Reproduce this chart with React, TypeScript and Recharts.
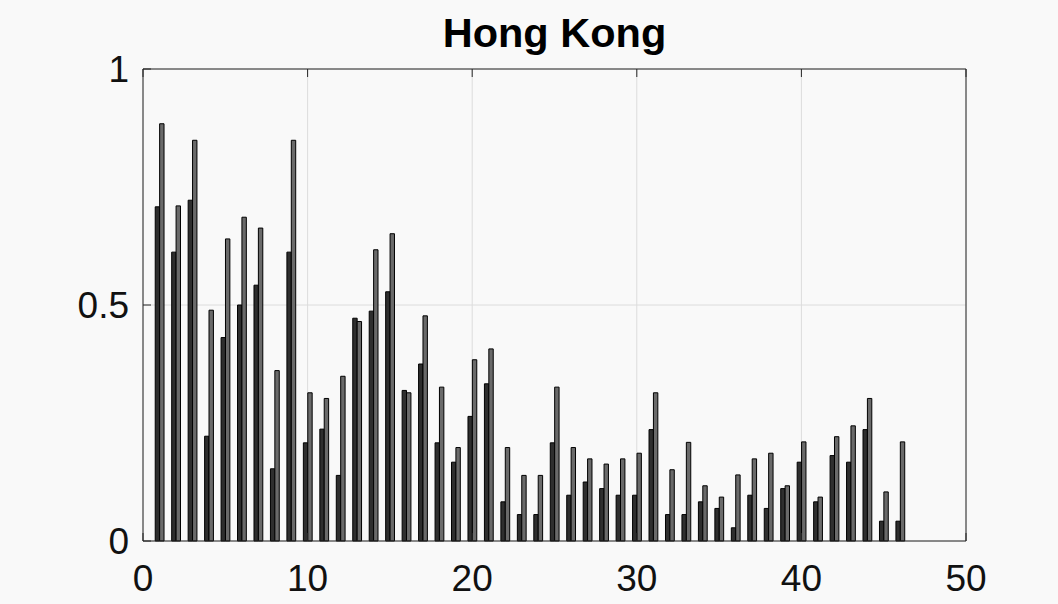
import { BarChart, Bar, XAxis, YAxis, CartesianGrid } from 'recharts'

// group positions along x
const positions = [
  1, 2, 3, 4, 5, 6, 7, 8, 9, 10, 11, 12, 13, 14, 15, 16, 17, 18, 19, 20, 21, 22, 23,
  24, 25, 26, 27, 28, 29, 30, 31, 32, 33, 34, 35, 36, 37, 38, 39, 40, 41, 42, 43, 44, 45, 46,
]

// first (dark) bar in each group
const seriesA = [
  0.708, 0.612, 0.722, 0.222, 0.431, 0.5, 0.542, 0.153, 0.612, 0.208, 0.237, 0.139, 0.472,
  0.487, 0.528, 0.319, 0.375, 0.208, 0.167, 0.264, 0.333, 0.083, 0.056, 0.056, 0.208, 0.097,
  0.125, 0.111, 0.097, 0.097, 0.236, 0.056, 0.056, 0.083, 0.069, 0.028, 0.097, 0.069, 0.111,
  0.167, 0.083, 0.181, 0.167, 0.236, 0.042, 0.042,
]

// second (lighter) bar in each group
const seriesB = [
  0.884, 0.71, 0.849, 0.489, 0.64, 0.686, 0.663, 0.361, 0.849, 0.314, 0.302, 0.349, 0.465,
  0.617, 0.651, 0.314, 0.477, 0.326, 0.198, 0.384, 0.407, 0.198, 0.139, 0.139, 0.326, 0.198,
  0.174, 0.163, 0.174, 0.186, 0.314, 0.151, 0.209, 0.117, 0.093, 0.14, 0.174, 0.186, 0.117,
  0.21, 0.093, 0.221, 0.244, 0.302, 0.104, 0.21,
]

const xTicks = [0, 10, 20, 30, 40, 50]
const yTicks = [0, 0.5, 1]

const data = positions.map((x, i) => ({ x, a: seriesA[i], b: seriesB[i] }))

const W = 1058
const H = 604
const FONT = '"Liberation Sans", Arial, Helvetica, sans-serif'
const AXIS = '#262626'
const tickStyle = { fontSize: 37, fontFamily: FONT, fill: '#111' }

export default function App() {
  return (
    <div style={{ position: 'absolute', left: 0, top: 0, width: W, height: H, background: '#f9f9f9' }}>
      <BarChart
        width={W}
        height={H}
        data={data}
        margin={{ top: 68, right: 91, bottom: 0, left: 0 }}
        barGap={0}
        barSize={4.4}
      >
        <CartesianGrid stroke="#dcdcdc" strokeWidth={1} xAxisId="bottom" yAxisId="left" />
        <XAxis
          xAxisId="bottom"
          dataKey="x"
          type="number"
          domain={[0, 50]}
          ticks={xTicks}
          height={63}
          stroke={AXIS}
          tickSize={-8}
          tickMargin={32}
          tick={tickStyle}
          interval={0}
          allowDataOverflow
        />
        <XAxis
          xAxisId="top"
          orientation="top"
          dataKey="x"
          type="number"
          domain={[0, 50]}
          ticks={xTicks}
          height={1}
          stroke={AXIS}
          tickSize={-8}
          tickFormatter={() => ''}
          interval={0}
        />
        <YAxis
          yAxisId="left"
          type="number"
          domain={[0, 1]}
          ticks={yTicks}
          width={143}
          stroke={AXIS}
          tickSize={-8}
          tickMargin={22}
          tick={tickStyle}
          interval={0}
        />
        <YAxis
          yAxisId="right"
          orientation="right"
          type="number"
          domain={[0, 1]}
          ticks={yTicks}
          width={1}
          stroke={AXIS}
          tickSize={-8}
          tickFormatter={() => ''}
          interval={0}
        />
        <Bar dataKey="a" xAxisId="bottom" yAxisId="left" fill="#2e2e2e" stroke="#000" strokeWidth={1} isAnimationActive={false} />
        <Bar dataKey="b" xAxisId="bottom" yAxisId="left" fill="#6a6a6a" stroke="#000" strokeWidth={1} isAnimationActive={false} />
      </BarChart>
      <svg width={W} height={60} style={{ position: 'absolute', left: 0, top: 0, pointerEvents: 'none' }}>
        <text x={554.5} y={47} textAnchor="middle" fontFamily={FONT} fontWeight="bold" fontSize={41.5} fill="#000">
          Hong Kong
        </text>
      </svg>
    </div>
  )
}
